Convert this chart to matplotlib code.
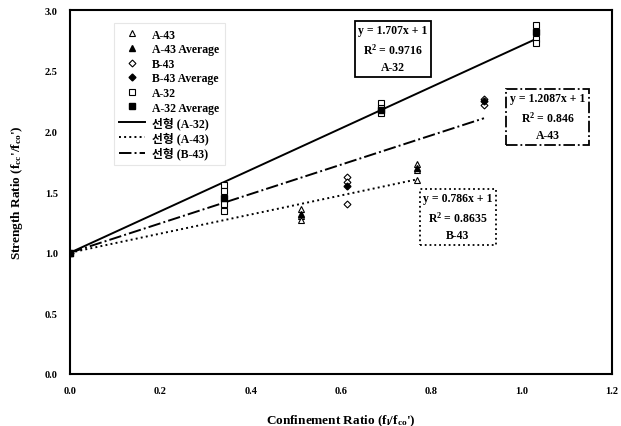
import numpy as np
import matplotlib
matplotlib.use("Agg")
import matplotlib.pyplot as plt

plt.rcParams['font.family'] = ['Liberation Serif', 'Noto Sans CJK KR']
plt.rcParams['font.weight'] = 'bold'
plt.rcParams['axes.labelweight'] = 'bold'
plt.rcParams['mathtext.fontset'] = 'custom'
plt.rcParams['mathtext.rm'] = 'Liberation Serif:bold'
plt.rcParams['mathtext.it'] = 'Liberation Serif:bold'

# test points
a43_x = [0.511, 0.511, 0.511, 0.768, 0.768, 0.768]
a43_y = [1.36, 1.30, 1.27, 1.73, 1.68, 1.60]
a43_avg_x = [0.0, 0.511, 0.768]
a43_avg_y = [1.0, 1.32, 1.70]

b43_x = [0.613, 0.613, 0.613, 0.917, 0.917]
b43_y = [1.62, 1.58, 1.40, 2.27, 2.22]
b43_avg_x = [0.0, 0.613, 0.917]
b43_avg_y = [1.0, 1.55, 2.25]

a32_x = [0.341, 0.341, 0.341, 0.341, 0.688, 0.688, 0.688, 1.032, 1.032, 1.032]
a32_y = [1.56, 1.51, 1.40, 1.34, 2.23, 2.19, 2.15, 2.88, 2.76, 2.73]
a32_avg_x = [0.0, 0.341, 0.688, 1.032]
a32_avg_y = [1.0, 1.45, 2.18, 2.82]

# linear fits y = m x + 1
fit_a32 = (1.707, 1.032)
fit_a43 = (0.786, 0.768)
fit_b43 = (1.2087, 0.917)

fig = plt.figure(figsize=(6.21, 4.27), dpi=100)
ax = fig.add_axes([0.113, 0.122, 0.872, 0.852])

ms = 4.5
ax.plot(a43_x, a43_y, '^', mfc='white', mec='black', ms=ms, mew=0.8, label='A-43', zorder=3)
ax.plot(a43_avg_x, a43_avg_y, '^', color='black', ms=ms, label='A-43 Average', zorder=4)
ax.plot(b43_x, b43_y, 'D', mfc='white', mec='black', ms=ms - 1, mew=0.8, label='B-43', zorder=3)
ax.plot(b43_avg_x, b43_avg_y, 'D', color='black', ms=ms - 1, label='B-43 Average', zorder=4)
ax.plot(a32_x, a32_y, 's', mfc='white', mec='black', ms=ms, mew=0.8, label='A-32', zorder=3)
ax.plot(a32_avg_x, a32_avg_y, 's', color='black', ms=ms, label='A-32 Average', zorder=4)

xx = np.array([0.0, fit_a32[1]])
ax.plot(xx, fit_a32[0] * xx + 1, '-', color='black', lw=1.4, label='선형 (A-32)')
xx = np.array([0.0, fit_a43[1]])
ax.plot(xx, fit_a43[0] * xx + 1, ':', color='black', lw=1.4, label='선형 (A-43)')
xx = np.array([0.0, fit_b43[1]])
ax.plot(xx, fit_b43[0] * xx + 1, '-.', color='black', lw=1.4, label='선형 (B-43)')

ax.set_xlim(0, 1.2)
ax.set_ylim(0, 3.0)
ax.set_xticks(np.arange(0, 1.21, 0.2))
ax.set_yticks(np.arange(0, 3.01, 0.5))
ax.xaxis.set_major_formatter(matplotlib.ticker.FormatStrFormatter('%.1f'))
ax.yaxis.set_major_formatter(matplotlib.ticker.FormatStrFormatter('%.1f'))
ax.tick_params(labelsize=7.5, length=0, pad=9)
for s in ax.spines.values():
    s.set_linewidth(1.5)

ax.set_xlabel("Confinement Ratio (f$_{\\mathrm{l}}$/f$_{\\mathrm{co}}$')", fontsize=9.5, labelpad=12)
ax.set_ylabel("Strength Ratio (f$_{\\mathrm{cc}}$'/f$_{\\mathrm{co}}$')", fontsize=9.5, labelpad=14)

leg = ax.legend(loc='upper left', bbox_to_anchor=(0.07, 0.98), fontsize=8.5,
                frameon=True, handlelength=2.2, labelspacing=0.22, borderpad=0.45,
                handletextpad=0.6)
leg.get_frame().set_edgecolor('#e0e0e0')
leg.get_frame().set_linewidth(0.8)
leg.get_frame().set_boxstyle('square', pad=0)

box_kw = dict(fontsize=8.5, ha='center', va='center', linespacing=1.5)
ax.text(0.715, 2.68, "y = 1.707x + 1\nR$^2$ = 0.9716\nA-32",
        bbox=dict(boxstyle='square,pad=0.3', fc='white', ec='black', lw=1.3), **box_kw)
ax.text(1.058, 2.12, "y = 1.2087x + 1\nR$^2$ = 0.846\nA-43",
        bbox=dict(boxstyle='square,pad=0.3', fc='white', ec='black', lw=1.3, ls='-.'), **box_kw)
ax.text(0.859, 1.295, "y = 0.786x + 1\nR$^2$ = 0.8635\nB-43",
        bbox=dict(boxstyle='square,pad=0.3', fc='white', ec='black', lw=1.3, ls=':'), **box_kw)

fig.savefig('out.png', dpi=100)
